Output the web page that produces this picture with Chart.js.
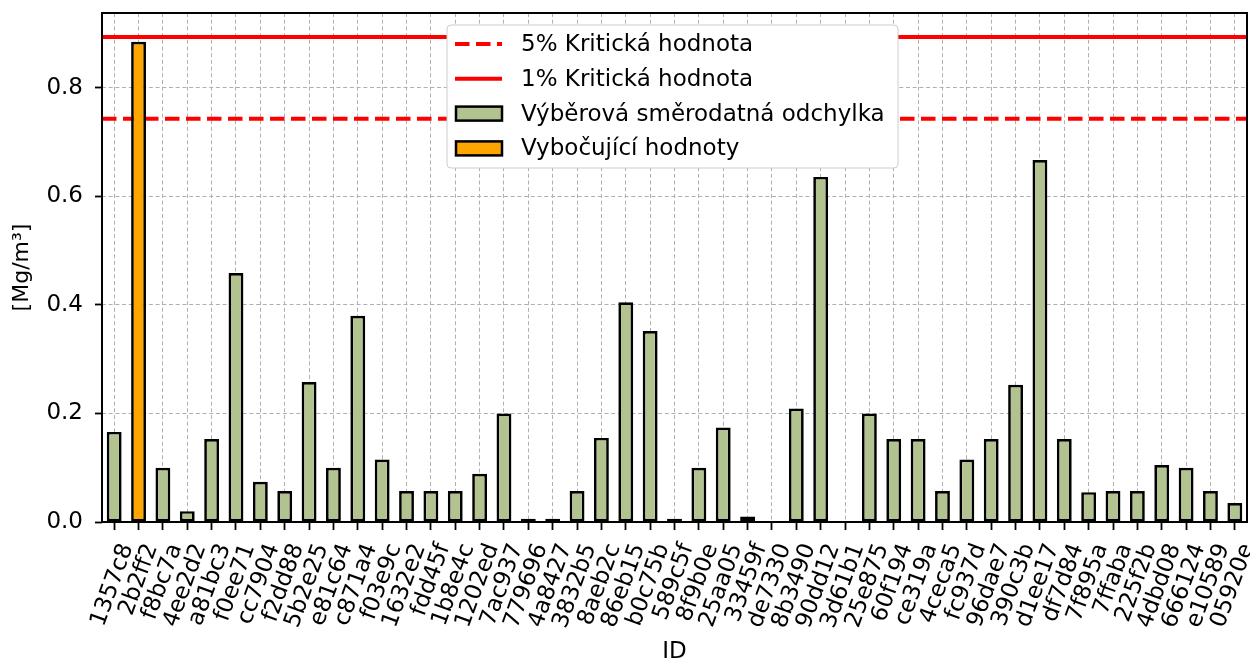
<!DOCTYPE html>
<html lang="cs">
<head>
    <meta charset="UTF-8">
    <title>Výběrová směrodatná odchylka</title>
    <script src="https://cdn.jsdelivr.net/npm/chart.js"></script>
    <style>
        body { margin: 0; background: #fff; }
    </style>
</head>
<body>
    <canvas id="sdChart" width="1250" height="662"></canvas>

    <script>
        // IDs of the samples (x axis)
        const ids = ['1357c8', '2b2ff2', 'f8bc7a', '4ee2d2', 'a81bc3', 'f0ee71', 'cc7904', 'f2dd88', '5b2e25', 'e81c64',
            'c871a4', 'f03e9c', '1632e2', 'fdd45f', '1b8e4c', '1202ed', '7ac937', '779696', '4a8427', '3832b5',
            '8aeb2c', '86eb15', 'b0c75b', '589c5f', '8f9b0e', '25aa05', '33459f', 'de7330', '8b3490', '90dd12',
            '3d61b1', '25e875', '60f194', 'ce319a', '4ceca5', 'fc937d', '96dae7', '390c3b', 'd1ee17', 'df7d84',
            '7f895a', '7ffaba', '225f2b', '4dbd08', '666124', 'e10589', '05920e'];

        // sample standard deviation per ID [Mg/m3]
        const stdDev = [0.166, 0.885, 0.100, 0.020, 0.153, 0.459, 0.074, 0.057, 0.258, 0.100,
            0.380, 0.115, 0.057, 0.057, 0.057, 0.089, 0.200, 0.006, 0.006, 0.057,
            0.155, 0.405, 0.352, 0.006, 0.100, 0.174, 0.010, 0.001, 0.209, 0.636,
            0.001, 0.200, 0.153, 0.153, 0.057, 0.115, 0.153, 0.253, 0.667, 0.153,
            0.055, 0.057, 0.057, 0.105, 0.100, 0.057, 0.035];

        // outliers are drawn orange
        const outliers = ['2b2ff2'];

        // critical values
        const crit5 = 0.743;
        const crit1 = 0.894;

        const yTicks = [0, 0.2, 0.4, 0.6, 0.8];

        const green = '#b3c38f';
        const orange = '#ffa500';
        const font = 'DejaVu Sans';
        const fs = 23;

        // critical value lines (under the bars), frame and legend on top
        const critLines = {
            id: 'critLines',
            beforeDatasetsDraw(chart) {
                const ctx = chart.ctx;
                const area = chart.chartArea;
                const y = chart.scales.y;
                ctx.save();
                ctx.strokeStyle = 'red';
                ctx.lineWidth = 4;
                [[crit5, [14.5, 6.5]], [crit1, []]].forEach(([v, dash]) => {
                    const py = y.getPixelForValue(v);
                    ctx.setLineDash(dash);
                    ctx.beginPath();
                    ctx.moveTo(area.left, py);
                    ctx.lineTo(area.right, py);
                    ctx.stroke();
                });
                ctx.restore();
            },
            afterDraw(chart) {
                const ctx = chart.ctx;
                const a = chart.chartArea;
                ctx.save();
                ctx.strokeStyle = '#000';
                ctx.lineWidth = 2;
                ctx.strokeRect(a.left, a.top, a.right - a.left, a.bottom - a.top);

                // legend box
                const bx = 447, by = 25, bw = 451, bh = 143;
                ctx.fillStyle = '#fff';
                ctx.strokeStyle = '#cccccc';
                ctx.lineWidth = 1;
                ctx.beginPath();
                ctx.roundRect(bx, by, bw, bh, 4);
                ctx.fill();
                ctx.stroke();

                const rows = [
                    { label: '5% Kritická hodnota', type: 'line', dash: [14.5, 6.5] },
                    { label: '1% Kritická hodnota', type: 'line', dash: [] },
                    { label: 'Výběrová směrodatná odchylka', type: 'box', color: green },
                    { label: 'Vybočující hodnoty', type: 'box', color: orange }
                ];
                ctx.font = fs + 'px "' + font + '"';
                ctx.textBaseline = 'middle';
                rows.forEach((r, i) => {
                    const cy = 44 + i * 34.8;
                    if (r.type === 'line') {
                        ctx.strokeStyle = 'red';
                        ctx.lineWidth = 4;
                        ctx.setLineDash(r.dash);
                        ctx.beginPath();
                        ctx.moveTo(455, cy);
                        ctx.lineTo(502, cy);
                        ctx.stroke();
                        ctx.setLineDash([]);
                    } else {
                        ctx.fillStyle = r.color;
                        ctx.fillRect(456, cy - 7, 46, 14);
                        ctx.strokeStyle = '#000';
                        ctx.lineWidth = 2.5;
                        ctx.strokeRect(456, cy - 7, 46, 14);
                    }
                    ctx.fillStyle = '#000';
                    ctx.fillText(r.label, 521, cy + 1);
                });
                ctx.restore();
            }
        };

        const ctx = document.getElementById('sdChart').getContext('2d');
        new Chart(ctx, {
            type: 'bar',
            data: {
                labels: ids,
                datasets: [{
                    label: 'Výběrová směrodatná odchylka',
                    data: stdDev,
                    backgroundColor: ids.map(id => outliers.includes(id) ? orange : green),
                    borderColor: '#000',
                    borderWidth: 2.7,
                    borderSkipped: false,
                    categoryPercentage: 1,
                    barPercentage: 0.61
                }]
            },
            options: {
                responsive: false,
                animation: false,
                layout: { padding: { top: 13, right: 3, left: 0, bottom: 0 } },
                plugins: {
                    legend: { display: false },
                    tooltip: { enabled: false }
                },
                scales: {
                    x: {
                        z: 1,
                        offset: true,
                        grid: {
                            offset: false,
                            color: '#b0b0b0',
                            lineWidth: 1,
                            tickLength: 8,
                            tickColor: '#000',
                            tickWidth: 1.8,
                            tickBorderDash: []
                        },
                        border: { display: false, dash: [4, 2.7] },
                        ticks: {
                            autoSkip: false,
                            minRotation: 70,
                            maxRotation: 70,
                            labelOffset: 13,
                            color: '#000',
                            padding: 10,
                            font: { family: font, size: fs }
                        },
                        title: {
                            display: true,
                            text: 'ID',
                            color: '#000',
                            padding: { top: 0, bottom: -4 },
                            font: { family: font, size: fs }
                        },
                        afterFit(scale) {
                            scale.height = 140;
                            scale.paddingLeft = 0;
                            scale.paddingRight = 0;
                        }
                    },
                    y: {
                        z: 1,
                        min: 0,
                        max: 0.938,
                        afterBuildTicks(scale) {
                            scale.ticks = yTicks.map(v => ({ value: v }));
                        },
                        grid: {
                            color: '#b0b0b0',
                            lineWidth: 1,
                            tickLength: 7,
                            tickColor: '#000',
                            tickWidth: 1.8,
                            tickBorderDash: []
                        },
                        border: { display: false, dash: [4, 2.7] },
                        ticks: {
                            color: '#000',
                            padding: 12,
                            font: { family: font, size: fs },
                            callback: v => v.toFixed(1)
                        },
                        title: {
                            display: true,
                            text: '[Mg/m³]',
                            color: '#000',
                            padding: { top: 9, bottom: 0 },
                            font: { family: font, size: fs - 1 }
                        },
                        afterFit(scale) {
                            scale.width = 102;
                            scale.paddingTop = 0;
                            scale.paddingBottom = 0;
                        }
                    }
                }
            },
            plugins: [critLines]
        });
    </script>
</body>
</html>
